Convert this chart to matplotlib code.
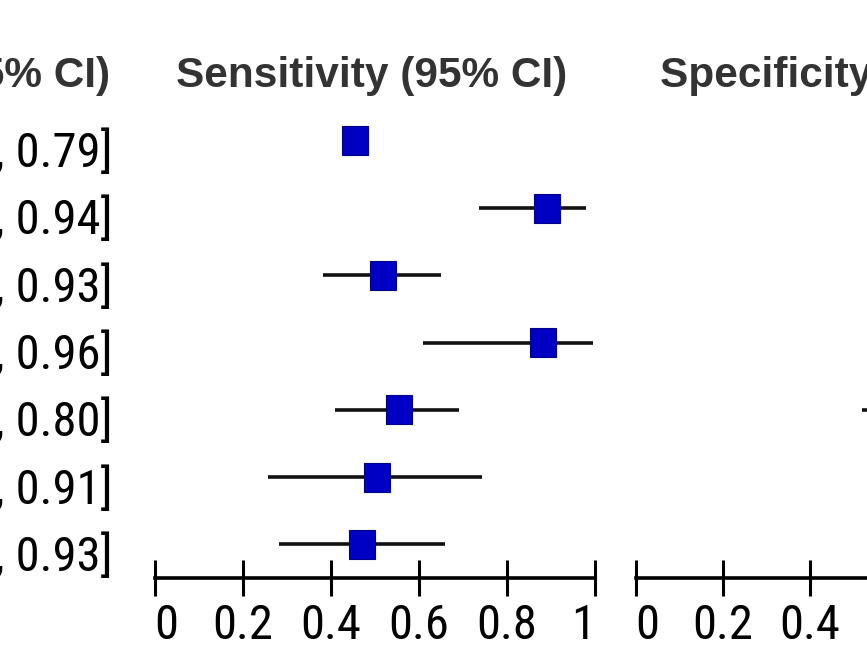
import matplotlib
matplotlib.use("Agg")
import matplotlib.pyplot as plt
from matplotlib import font_manager as fm
from matplotlib.patches import Rectangle
import numpy as np

# ---- data ----
rows = [1, 2, 3, 4, 5, 6, 7]
sens = [0.454, 0.890, 0.519, 0.881, 0.554, 0.504, 0.470]
sens_lo = [0.440, 0.737, 0.383, 0.610, 0.409, 0.258, 0.283]
sens_hi = [0.470, 0.979, 0.650, 0.995, 0.692, 0.743, 0.659]
spec_hi = [0.79, 0.94, 0.93, 0.96, 0.80, 0.91, 0.93]
spec_lo = [np.nan, np.nan, np.nan, np.nan, 0.52, np.nan, np.nan]
xticks = [0, 0.2, 0.4, 0.6, 0.8, 1]
xtick_labels = ["0", "0.2", "0.4", "0.6", "0.8", "1"]
header_sens = "Sensitivity (95% CI)"
header_spec = "Specificity (95% CI)"

# ---- pick a narrow font for the numbers ----
names = {f.name for f in fm.fontManager.ttflist}
num_props = None
for cand in ["Liberation Sans Narrow", "Roboto Condensed", "Arial Narrow"]:
    if cand in names:
        num_props = dict(family=[cand, "DejaVu Sans"])
        num_size = 35
        break
if num_props is None:
    path = fm.findfont(fm.FontProperties(family="DejaVu Sans", stretch="condensed"))
    if "Condensed" in path:
        num_props = dict(family=["DejaVu Sans"], fontstretch="condensed")
        num_size = 34.5
    else:
        num_props = dict(family=["Liberation Sans", "DejaVu Sans"])
        num_size = 32

W, H = 867, 655
fig = plt.figure(figsize=(W / 100, H / 100), dpi=100)
fig.patch.set_facecolor("white")

def px2fig(x, y):
    return x / W, 1 - y / H

top_px, bot_px = 107.35, 578.0
ax_b = 1 - bot_px / H
ax_h = (bot_px - top_px) / H

def make_axes(x0_px, scale_px):
    ax = fig.add_axes([x0_px / W, ax_b, scale_px / W, ax_h])
    ax.set_xlim(0, 1)
    ax.set_ylim(7.5, 0.5)
    ax.set_facecolor("none")
    for s in ["top", "left", "right"]:
        ax.spines[s].set_visible(False)
    ax.spines["bottom"].set_bounds(0, 1)
    ax.spines["bottom"].set_linewidth(2.6)
    ax.set_yticks([])
    # only ticks whose labels fall inside the canvas
    keep = [i for i, t in enumerate(xticks) if x0_px + t * scale_px + 20 < W]
    ax.set_xticks([xticks[i] for i in keep])
    labs = ax.set_xticklabels([xtick_labels[i] for i in keep], fontsize=num_size, **num_props)
    for lab in labs:
        if lab.get_text() == xtick_labels[0]:
            lab.set_ha("left")
        elif lab.get_text() == xtick_labels[-1]:
            lab.set_ha("right")
    ax.tick_params(axis="x", direction="inout", length=26, width=2.2, pad=5, colors="black")
    return ax

ax1 = make_axes(154.7, 440.3)
ax2 = make_axes(635.7, 436.0)

# sensitivity CI lines + squares
sq_w = 26 / 440.3
sq_h = 29 / 67.3
for r, m, lo, hi in zip(rows, sens, sens_lo, sens_hi):
    ax1.plot([lo, hi], [r, r], color="#111111", lw=2.6, solid_capstyle="butt", zorder=2)
    ax1.add_patch(Rectangle((m - sq_w / 2, r - sq_h / 2), sq_w, sq_h,
                            facecolor="#0000C4", edgecolor="#00008a", lw=0.8, zorder=3))

# specificity CI lines (only visible parts)
for r, lo, hi in zip(rows, spec_lo, spec_hi):
    if not np.isnan(lo):
        ax2.plot([lo, hi], [r, r], color="#111111", lw=2.6, solid_capstyle="butt", zorder=2)

# headers
hdr = dict(va="baseline", fontsize=30.5, fontweight="bold",
           family=["Liberation Sans", "DejaVu Sans"], color="#333333")
hx, hy = px2fig(371.7, 87)
fig.text(hx, hy, header_sens, ha="center", **hdr)
hx, hy = px2fig(660, 87)
fig.text(hx, hy, header_spec, ha="left", **hdr)
hx, hy = px2fig(110, 87)
fig.text(hx, hy, header_spec, ha="right", **hdr)

# specificity text column (upper bounds visible)
row_y_px = [141 + 67.3 * (r - 1) for r in rows]
for ypx, hi in zip(row_y_px, spec_hi):
    tx, ty = px2fig(112.5, ypx + 26)
    fig.text(tx, ty, f", {hi:.2f}]", ha="right", va="baseline", fontsize=num_size,
             color="black", **num_props)

fig.savefig("out.png", dpi=100, facecolor="white")
